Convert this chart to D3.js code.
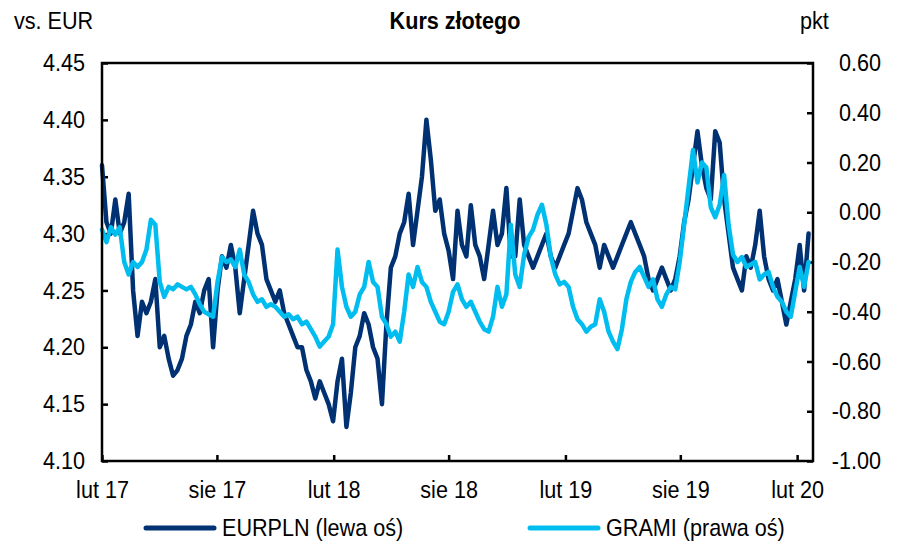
<!DOCTYPE html>
<meta charset="utf-8">
<script src="https://d3js.org/d3.v7.min.js"></script>
<style>
  body { margin: 0; background: #fff; }
  text { font-family: "Liberation Sans", Arial, sans-serif; fill: #000; font-size: 24px; }
  .sq { transform-box: fill-box; transform: scaleX(0.9); }
</style>
<div id="chart"></div>
<script>
// weekly readings, first week starting 2017-02-01
var startDate = "2017-02-01";

var eurpln = [
  4.36, 4.31, 4.30, 4.33, 4.30, 4.31, 4.335, 4.25, 4.21, 4.24,
  4.23, 4.24, 4.26, 4.20, 4.21, 4.19, 4.175, 4.18, 4.19, 4.21,
  4.22, 4.24, 4.23, 4.25, 4.26, 4.20, 4.25, 4.28, 4.27, 4.29,
  4.27, 4.23, 4.26, 4.29, 4.32, 4.30, 4.29, 4.26, 4.25, 4.24,
  4.25, 4.23, 4.22, 4.21, 4.20, 4.20, 4.18, 4.17, 4.155, 4.17,
  4.16, 4.15, 4.135, 4.17, 4.19, 4.13, 4.16, 4.20, 4.21, 4.23,
  4.22, 4.20, 4.19, 4.15, 4.22, 4.27, 4.28, 4.30, 4.31, 4.335,
  4.29, 4.32, 4.35, 4.40, 4.365, 4.32, 4.33, 4.30, 4.285, 4.26,
  4.32, 4.29, 4.28, 4.325, 4.29, 4.28, 4.26, 4.29, 4.32, 4.29,
  4.30, 4.34, 4.28, 4.28, 4.33, 4.29, 4.28, 4.27, 4.28, 4.29,
  4.30, 4.28, 4.27, 4.28, 4.29, 4.30, 4.32, 4.34, 4.33, 4.31,
  4.30, 4.29, 4.27, 4.29, 4.28, 4.27, 4.28, 4.29, 4.30, 4.31,
  4.30, 4.29, 4.28, 4.26, 4.25, 4.26, 4.27, 4.26, 4.25, 4.26,
  4.28, 4.31, 4.33, 4.36, 4.39, 4.36, 4.34, 4.33, 4.39, 4.38,
  4.33, 4.30, 4.27, 4.26, 4.25, 4.28, 4.27, 4.29, 4.32, 4.28,
  4.26, 4.25, 4.26, 4.24, 4.22, 4.24, 4.26, 4.29, 4.25, 4.30
];

var grami = [
  -0.07, -0.12, -0.06, -0.09, -0.06, -0.20, -0.25, -0.20, -0.22, -0.20,
  -0.15, -0.03, -0.05, -0.28, -0.34, -0.30, -0.31, -0.29, -0.30, -0.31,
  -0.30, -0.33, -0.37, -0.40, -0.41, -0.42, -0.28, -0.18, -0.20, -0.19,
  -0.22, -0.15, -0.25, -0.28, -0.33, -0.36, -0.35, -0.38, -0.37, -0.38,
  -0.40, -0.42, -0.41, -0.43, -0.42, -0.45, -0.44, -0.47, -0.50, -0.54,
  -0.52, -0.50, -0.45, -0.15, -0.30, -0.38, -0.42, -0.40, -0.33, -0.30,
  -0.20, -0.28, -0.30, -0.42, -0.45, -0.50, -0.48, -0.52, -0.40, -0.25,
  -0.30, -0.22, -0.28, -0.30, -0.36, -0.40, -0.44, -0.45, -0.40, -0.32,
  -0.29, -0.35, -0.38, -0.36, -0.40, -0.44, -0.47, -0.48, -0.42, -0.30,
  -0.38, -0.33, -0.05, -0.25, -0.30, -0.17, -0.10, -0.07, -0.01, 0.03,
  -0.05, -0.18, -0.25, -0.29, -0.28, -0.30, -0.38, -0.43, -0.45, -0.48,
  -0.46, -0.45, -0.35, -0.40, -0.48, -0.52, -0.55, -0.47, -0.35, -0.28,
  -0.24, -0.22, -0.26, -0.30, -0.27, -0.35, -0.38, -0.33, -0.30, -0.31,
  -0.20, -0.05, 0.10, 0.25, 0.12, 0.20, 0.18, 0.02, -0.02, 0.03,
  0.15, -0.05, -0.17, -0.20, -0.18, -0.22, -0.21, -0.20, -0.27, -0.25,
  -0.24, -0.30, -0.34, -0.36, -0.40, -0.42, -0.32, -0.22, -0.30, -0.20
];

var leftTicks = [4.10, 4.15, 4.20, 4.25, 4.30, 4.35, 4.40, 4.45];
var rightTicks = [-1.00, -0.80, -0.60, -0.40, -0.20, 0.00, 0.20, 0.40, 0.60];
var xTickDates = ["2017-02-01", "2017-08-01", "2018-02-01", "2018-08-01", "2019-02-01", "2019-08-01", "2020-02-01"];
var xTickLabels = ["lut 17", "sie 17", "lut 18", "sie 18", "lut 19", "sie 19", "lut 20"];
var seriesNames = ["EURPLN (lewa oś)", "GRAMI (prawa oś)"];
var colors = ["#003172", "#00bdf0"];

var parse = d3.timeParse("%Y-%m-%d");
var t0 = parse(startDate);
var dates = eurpln.map(function(d, i) { return d3.timeDay.offset(t0, i * 7); });
var fmt = d3.formatLocale({decimal: ".", thousands: "", grouping: [3], currency: ["", ""], minus: "-"}).format(".2f");

var W = 910, H = 546;
var margin = {top: 63, right: 97, bottom: 85, left: 102};
var width = W - margin.left - margin.right,
    height = H - margin.top - margin.bottom;

var svg = d3.select("#chart").append("svg")
    .attr("width", W)
    .attr("height", H);

var g = svg.append("g")
    .attr("transform", "translate(" + margin.left + "," + margin.top + ")");

var x = d3.scaleTime()
    .domain([parse("2017-02-01"), parse("2020-02-26")])
    .range([0, width]);

var yL = d3.scaleLinear().domain([4.10, 4.45]).range([height, 0]);
var yR = d3.scaleLinear().domain([-1.00, 0.60]).range([height, 0]);

// axes, ticks pointing inward
var xAxis = g.append("g")
    .attr("transform", "translate(0," + height + ")")
    .call(d3.axisBottom(x)
      .tickValues(xTickDates.map(parse))
      .tickFormat(function(d, i) { return xTickLabels[i]; })
      .tickSize(-6)
      .tickPadding(20));

var leftAxis = g.append("g")
    .call(d3.axisLeft(yL)
      .tickValues(leftTicks)
      .tickFormat(fmt)
      .tickSize(-6)
      .tickPadding(17));

var rightAxis = g.append("g")
    .attr("transform", "translate(" + width + ",0)")
    .call(d3.axisRight(yR)
      .tickValues(rightTicks)
      .tickFormat(fmt)
      .tickSize(-6)
      .tickPadding(68));

[xAxis, leftAxis, rightAxis].forEach(function(a) {
  a.select(".domain").remove();
  a.selectAll(".tick line").attr("stroke", "#000").attr("stroke-width", 2.5);
  a.selectAll(".tick text").attr("font-size", null).attr("font-family", null).classed("sq", true);
});
xAxis.selectAll(".tick text").attr("dy", "0.71em").style("transform-origin", "center");
leftAxis.selectAll(".tick text").style("transform-origin", "right center");
rightAxis.selectAll(".tick text").attr("text-anchor", "end").style("transform-origin", "right center");

// lines
var lineL = d3.line()
    .x(function(d, i) { return x(dates[i]); })
    .y(function(d) { return yL(d); });
var lineR = d3.line()
    .x(function(d, i) { return x(dates[i]); })
    .y(function(d) { return yR(d); });

g.append("path")
    .datum(eurpln)
    .attr("fill", "none")
    .attr("stroke", colors[0])
    .attr("stroke-width", 4.5)
    .attr("stroke-linejoin", "round")
    .attr("stroke-linecap", "round")
    .attr("d", lineL);

g.append("path")
    .datum(grami)
    .attr("fill", "none")
    .attr("stroke", colors[1])
    .attr("stroke-width", 4.5)
    .attr("stroke-linejoin", "round")
    .attr("stroke-linecap", "round")
    .attr("d", lineR);

// frame
g.append("rect")
    .attr("width", width)
    .attr("height", height)
    .attr("fill", "none")
    .attr("stroke", "#000")
    .attr("stroke-width", 2.5);

// titles
svg.append("text")
    .attr("class", "sq")
    .attr("x", 455).attr("y", 29)
    .attr("text-anchor", "middle")
    .style("transform-origin", "center")
    .style("font-weight", "bold")
    .text("Kurs złotego");
svg.append("text")
    .attr("class", "sq")
    .attr("x", 14).attr("y", 29)
    .style("transform-origin", "left center")
    .text("vs. EUR");
svg.append("text")
    .attr("class", "sq")
    .attr("x", 800).attr("y", 29)
    .style("transform-origin", "left center")
    .text("pkt");

// legend
var legendX = [146, 530];
seriesNames.forEach(function(name, i) {
  var lg = svg.append("g").attr("transform", "translate(" + legendX[i] + ",528)");
  lg.append("line")
      .attr("x1", 0).attr("x2", 68)
      .attr("stroke", colors[i])
      .attr("stroke-width", 5)
      .attr("stroke-linecap", "round");
  lg.append("text")
      .attr("class", "sq")
      .attr("x", 76).attr("dy", "0.35em")
      .style("transform-origin", "left center")
      .text(name);
});
</script>
